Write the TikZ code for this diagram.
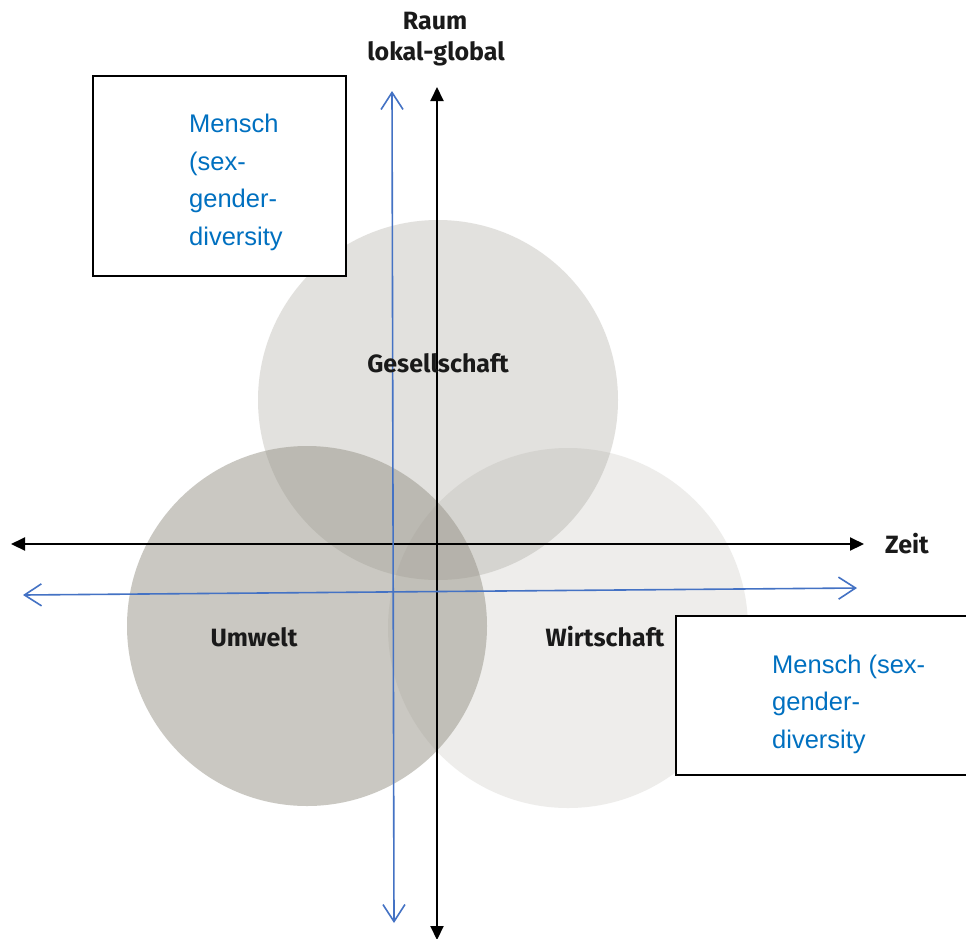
\documentclass[tikz,border=0pt]{standalone}
\usepackage{fontspec}
\setmainfont{Liberation Sans}
\newfontfamily\lblfont{Fira Sans}
\usetikzlibrary{arrows.meta}
\definecolor{circbase}{RGB}{150,147,135}
\definecolor{txtblue}{RGB}{0,112,192}
\definecolor{arrblue}{RGB}{68,114,196}
\definecolor{lbl}{RGB}{26,26,26}
\tikzset{
  circ/.style={circle, minimum size=360pt, inner sep=0pt, fill=circbase},
  axis/.style={line width=2pt, draw=black, {Triangle[length=14pt,width=13pt]}-{Triangle[length=14pt,width=13pt]}},
  bluearr/.style={line width=1.6pt, draw=arrblue, {Straight Barb[length=17pt,width=22pt,line width=1.6pt]}-{Straight Barb[length=17pt,width=22pt,line width=1.6pt]}},
  lab/.style={font=\lblfont\bfseries\fontsize{25}{29}\selectfont, text=lbl, inner sep=0pt},
  menschbox/.style={draw=black, line width=2pt, fill=white, inner sep=0pt},
  menschtxt/.style={font=\fontsize{25.5}{37.5}\selectfont, text=txtblue, align=left, inner sep=0pt, anchor=base west}
}
\begin{document}
\begin{tikzpicture}[x=1pt,y=-1pt]
\useasboundingbox[fill=white] (0,0) rectangle (966,938);
% circles
\node[circ, fill opacity=0.27] (ges) at (438,400) {};
\node[circ, fill opacity=0.50] (umw) at (307,626) {};
\node[circ, fill opacity=0.16] (wir) at (568,628) {};
% black axes
\coordinate (vt) at (437,87);
\coordinate (vb) at (437,940);
\coordinate (hl) at (11,544);
\coordinate (hr) at (864,544);
\draw[axis] (vb) -- (vt);
\draw[axis] (hl) -- (hr);
% blue arrows
\coordinate (bt) at (392,91);
\coordinate (bb) at (394,923);
\coordinate (bl) at (23,595);
\coordinate (br) at (857,588);
\draw[bluearr] (bb) -- (bt);
\draw[bluearr] (bl) -- (br);
% labels
\node[lab, anchor=base] (raum) at (435,29) {Raum};
\node[lab, anchor=base] (lokal) at (436,60) {lokal-global};
\node[lab, anchor=base west] (zeit) at (885,553) {Zeit};
\node[lab, anchor=base] (gesl) at (438,372) {Gesellschaft};
\node[lab, anchor=base] (umwl) at (254,646) {Umwelt};
\node[lab, anchor=base] (wirl) at (605,646) {Wirtschaft};
% boxes
\path[menschbox] (93,76) rectangle (346,276);
\node[menschtxt] (m1) at (189,245) {Mensch\\(sex-\\gender-\\diversity};
\path[menschbox] (676,616) rectangle (975,775);
\node[menschtxt] (m2) at (772,748) {Mensch (sex-\\gender-\\diversity};
\end{tikzpicture}
\end{document}
